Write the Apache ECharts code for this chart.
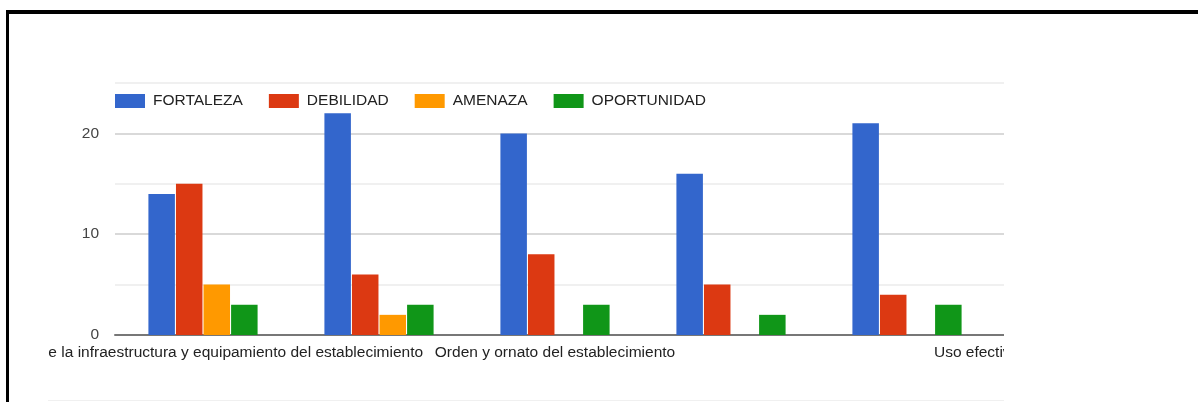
<!DOCTYPE html>
<html>
	<head>
		<meta charset="UTF-8">
		<title></title>
		<script type="text/javascript" src="https://cdn.jsdelivr.net/npm/echarts@6/dist/echarts.min.js"></script>
		<style>
			body { margin: 0; background: #fff; }
			#frameTop { position: absolute; left: 6px; top: 10px; width: 1192px; height: 4px; background: #000; }
			#frameLeft { position: absolute; left: 6px; top: 10px; width: 3px; height: 392px; background: #000; }
			#clip { position: absolute; left: 48px; top: 0; width: 956px; height: 400px; overflow: hidden; border-bottom: 1px solid #f0f0f0; }
			#main { position: absolute; left: -48px; top: 0; width: 1250px; height: 400px; }
		</style>
	</head>
	<body>
		<div id="frameTop"></div>
		<div id="frameLeft"></div>
		<div id="clip"><div id="main"></div></div>
		<script type="text/javascript">
			var categories = [
				'Calidad de la infraestructura y equipamiento del establecimiento',
				'Limpieza del establecimiento',
				'Orden y ornato del establecimiento',
				'Seguridad del establecimiento',
				'Uso de los espacios comunes',
				'Uso efectivo del tiempo del establecimiento'
			];
			var fortaleza   = [14, 22, 20, 16, 21, null];
			var debilidad   = [15, 6, 8, 5, 4, null];
			var amenaza     = [5, 2, 0, 0, 0, null];
			var oportunidad = [3, 3, 3, 2, 3, null];
			var shownLabels = [0, 2, 5];

			var myChart = echarts.init(document.getElementById('main'));

			function bar(name, color, data) {
				return {
					name: name,
					type: 'bar',
					barWidth: 26.5,
					barGap: '4%',
					itemStyle: { color: color },
					data: data
				};
			}

			myChart.setOption({
				animation: false,
				textStyle: { fontFamily: 'Arial, "Liberation Sans", sans-serif' },
				legend: {
					left: 115,
					top: 93,
					padding: 0,
					icon: 'rect',
					itemWidth: 30,
					itemHeight: 14,
					itemGap: 26,
					textStyle: { fontSize: 15.5, color: '#222', padding: [0, 0, 0, 3] },
					data: ['FORTALEZA', 'DEBILIDAD', 'AMENAZA', 'OPORTUNIDAD']
				},
				grid: { left: 115, top: 83, right: 79, bottom: 65, containLabel: false, outerBoundsMode: 'none' },
				xAxis: {
					type: 'category',
					data: categories,
					axisLine: { lineStyle: { color: '#777', width: 2 } },
					axisTick: { show: false },
					axisLabel: {
						interval: function (i) { return shownLabels.indexOf(i) >= 0; },
						fontSize: 15.5,
						color: '#222',
						margin: 10
					}
				},
				yAxis: {
					type: 'value',
					min: 0,
					max: 25,
					interval: 5,
					axisLine: { show: false },
					axisTick: { show: false },
					axisLabel: {
						fontSize: 15.5,
						color: '#444',
						margin: 16,
						formatter: function (v) { return v % 10 === 0 ? v : ''; }
					},
					splitLine: { lineStyle: { color: ['#ccc', '#ebebeb'], width: 1.5 } }
				},
				series: [
					bar('FORTALEZA', '#3366cc', fortaleza),
					bar('DEBILIDAD', '#dc3912', debilidad),
					bar('AMENAZA', '#ff9900', amenaza),
					bar('OPORTUNIDAD', '#109618', oportunidad)
				]
			});
		</script>
	</body>
</html>
